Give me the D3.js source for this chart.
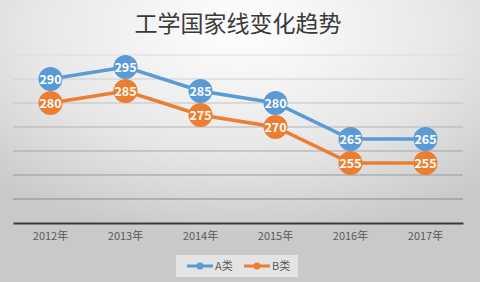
<!DOCTYPE html>
<html>
<head>
<meta charset="utf-8">
<script src="https://cdn.jsdelivr.net/npm/d3@7"></script>
<style>
  html, body { margin: 0; padding: 0; }
  body { width: 480px; height: 282px; overflow: hidden; }
  svg { display: block; }
</style>
</head>
<body>
<div id="chart"></div>
<script>
// Data.
const years = ["2012年", "2013年", "2014年", "2015年", "2016年", "2017年"];
const seriesNames = ["A类", "B类"];
const valuesA = [290, 295, 285, 280, 265, 265];
const valuesB = [280, 285, 275, 270, 255, 255];
const gridTicks = [240, 250, 260, 270, 280, 290, 300];

const W = 480, H = 282;
const COLORS = { "A类": "#5b9bd5", "B类": "#ed7d31" };
const FONT = "'Noto Sans CJK SC', 'Noto Sans', sans-serif";

const svg = d3.select("#chart").append("svg")
    .attr("width", W).attr("height", H);

// Background: soft radial gray, brightest at top center.
const defs = svg.append("defs");
const bg = defs.append("radialGradient").attr("id", "bg")
    .attr("cx", "50%").attr("cy", "10%").attr("r", "75%");
bg.append("stop").attr("offset", "0%").attr("stop-color", "#ffffff");
bg.append("stop").attr("offset", "60%").attr("stop-color", "#e6e6e6");
bg.append("stop").attr("offset", "100%").attr("stop-color", "#c9c9c9");
svg.append("rect").attr("width", W).attr("height", H).attr("fill", "url(#bg)");

// Title
svg.append("text")
    .attr("x", 238).attr("y", 32)
    .attr("text-anchor", "middle")
    .attr("font-family", FONT)
    .attr("font-size", 23)
    .attr("fill", "#3a3a3a")
    .text("工学国家线变化趋势");

// Scales
const x = d3.scaleBand().domain(years).range([13, 463]);
const y = d3.scaleLinear().domain([230, 300]).range([223, 55]);
const cx = (d) => x(d) + x.bandwidth() / 2;

// Gridlines — lighter toward the top, like the source.
const gridColor = d3.scaleLinear().domain([300, 240]).range(["#dcdcdc", "#8a8a8a"]);
svg.append("g").selectAll("line")
    .data(gridTicks)
    .join("line")
    .attr("x1", 13).attr("x2", 463)
    .attr("y1", (d) => y(d)).attr("y2", (d) => y(d))
    .attr("stroke", (d) => gridColor(d))
    .attr("stroke-width", 1);

// X axis
const xAxis = svg.append("g")
    .attr("transform", `translate(0,${y(230)})`)
    .call(d3.axisBottom(x).tickSize(0).tickPadding(9));
xAxis.select(".domain").attr("stroke", "#3a3a3a").attr("stroke-width", 2);
xAxis.selectAll("text")
    .attr("font-family", FONT)
    .attr("font-size", 11)
    .attr("fill", "#595959");

// Series
const series = [
    { name: "A类", values: valuesA },
    { name: "B类", values: valuesB },
];
const line = d3.line().x((d) => cx(d.year)).y((d) => y(d.v));

// Draw B first so A sits above it.
[...series].reverse().forEach((s) => {
    const pts = years.map((yr, i) => ({ year: yr, v: s.values[i] }));
    const g = svg.append("g");
    g.append("path")
        .datum(pts)
        .attr("d", line)
        .attr("fill", "none")
        .attr("stroke", COLORS[s.name])
        .attr("stroke-width", 3.5);
    g.selectAll("circle")
        .data(pts)
        .join("circle")
        .attr("cx", (d) => cx(d.year))
        .attr("cy", (d) => y(d.v))
        .attr("r", 12)
        .attr("fill", COLORS[s.name]);
    g.selectAll("text")
        .data(pts)
        .join("text")
        .attr("x", (d) => cx(d.year))
        .attr("y", (d) => y(d.v) + 4.5)
        .attr("text-anchor", "middle")
        .attr("font-family", FONT)
        .attr("font-weight", "bold")
        .attr("font-size", 12.5)
        .attr("fill", "#fff")
        .text((d) => d.v);
});

// Legend
const legend = svg.append("g");
legend.append("rect")
    .attr("x", 176).attr("y", 255).attr("width", 122).attr("height", 22)
    .attr("fill", "#ebebeb").attr("opacity", 0.8);
const legendItems = legend.selectAll("g.item")
    .data(seriesNames)
    .join("g")
    .attr("class", "item")
    .attr("transform", (d, i) => `translate(${187 + i * 57},266)`);
legendItems.append("line")
    .attr("x1", 0).attr("x2", 26)
    .attr("stroke", (d) => COLORS[d])
    .attr("stroke-width", 3);
legendItems.append("circle")
    .attr("cx", 13).attr("r", 3.5)
    .attr("fill", (d) => COLORS[d]);
legendItems.append("text")
    .attr("x", 28).attr("y", 4)
    .attr("font-family", FONT)
    .attr("font-size", 11)
    .attr("fill", "#595959")
    .text((d) => d);
</script>
</body>
</html>
